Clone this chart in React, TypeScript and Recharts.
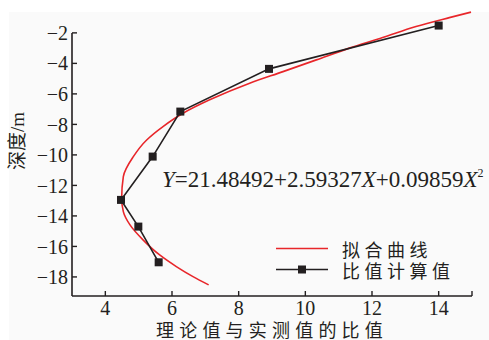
import React from 'react';
import {ComposedChart, Line, XAxis, YAxis, ReferenceLine} from 'recharts';

// fitted curve (bottom to top)
const fitRatio = [7.10, 6.63, 6.13, 5.63, 5.13, 4.74, 4.54, 4.49, 4.54, 4.84, 5.24, 5.73, 6.33, 7.13, 8.33, 9.33, 10.33, 11.32, 12.32, 13.32, 14.32, 14.97];
const fitDepth = [-18.52, -17.98, -17.32, -16.56, -15.57, -14.59, -13.72, -12.84, -11.42, -10.11, -9.02, -8.14, -7.27, -6.39, -5.30, -4.54, -3.77, -3.0, -2.31, -1.58, -1.0, -0.64];

// calculated ratio points
const calcRatio = [14.0, 8.91, 6.25, 5.42, 4.47, 4.99, 5.6];
const calcDepth = [-1.52, -4.36, -7.16, -10.11, -12.95, -14.7, -17.04];

const xTicks = [4, 6, 8, 10, 12, 14, 15];
const yTicks = [-2, -4, -6, -8, -10, -12, -14, -16, -18];

const fitData = fitRatio.map((x, i) => ({x, y: fitDepth[i]}));
const calcData = calcRatio.map((x, i) => ({x, y: calcDepth[i]}));

const ink = '#231f20';
const red = '#e8262a';
const serif = "'Liberation Serif', 'Times New Roman', serif";
const cjk = "'Liberation Serif', 'Noto Sans CJK SC', serif";

const SquareDot = (props: any) => {
    const {cx, cy} = props;
    if (cx == null || cy == null) return null;
    return <rect x={cx - 4} y={cy - 4} width={8} height={8} fill={ink}/>;
};

const LegendBox = () => (
    <div style={{position: 'absolute', left: 276, top: 238, fontFamily: cjk, fontSize: 18, letterSpacing: 4.5, color: ink}}>
        <div style={{display: 'flex', alignItems: 'center', height: 21}}>
            <svg width={66} height={21}>
                <line x1={0} y1={10.5} x2={52} y2={10.5} stroke={red} strokeWidth={1.6}/>
            </svg>
            <span>拟合曲线</span>
        </div>
        <div style={{display: 'flex', alignItems: 'center', height: 21}}>
            <svg width={66} height={21}>
                <line x1={0} y1={10.5} x2={52} y2={10.5} stroke={ink} strokeWidth={1.6}/>
                <rect x={22} y={6.5} width={8} height={8} fill={ink}/>
            </svg>
            <span>比值计算值</span>
        </div>
    </div>
);

const YLabel = () => (
    <text x={17} y={141} transform="rotate(-90 17 141)" textAnchor="middle" dominantBaseline="central"
          fontFamily={cjk} fontSize={19} fill={ink}>深度/m</text>
);

const App: React.FC = () => {
    return (
        <div style={{position: 'absolute', left: 0, top: 0, width: 489, height: 340, background: '#fff', overflow: 'hidden'}}>
            <div style={{position: 'absolute', left: 9, top: 12, right: 0, bottom: 0, background: '#fafafa'}}/>
            <ComposedChart width={489} height={340} margin={{top: 10, right: 17, left: 12, bottom: 14}}
                           style={{position: 'absolute', left: 0, top: 0}}>
                <XAxis type="number" dataKey="x" domain={[3, 15]} ticks={xTicks} height={30} interval={0}
                       tickFormatter={(v: number) => (v === 15 ? '' : String(v))}
                       tickSize={-5} tickMargin={10}
                       axisLine={{stroke: ink, strokeWidth: 1.6}} tickLine={{stroke: ink, strokeWidth: 1.4}}
                       tick={{fontSize: 20, fill: ink, fontFamily: serif}}
                       label={{value: '理论值与实测值的比值', position: 'bottom', offset: -2, fontSize: 18, fill: ink, fontFamily: cjk, letterSpacing: 5.2}}/>
                <YAxis type="number" domain={[-19.25, -0.5]} ticks={yTicks} width={60} interval={0}
                       tickFormatter={(v: number) => (v < 0 ? '\u2212' + Math.abs(v) : String(v))}
                       tickSize={-5} tickMargin={9}
                       axisLine={false} tickLine={{stroke: ink, strokeWidth: 1.4}}
                       tick={{fontSize: 20, fill: ink, fontFamily: serif}}
                       label={{content: () => <YLabel/>}}/>
                <ReferenceLine segment={[{x: 3, y: -19.25}, {x: 3, y: -2}]} stroke={ink} strokeWidth={1.6} ifOverflow="visible"/>
                <Line data={fitData} dataKey="y" type="monotoneY" stroke={red} strokeWidth={1.6} dot={false}
                      isAnimationActive={false} name="拟合曲线"/>
                <Line data={calcData} dataKey="y" type="linear" stroke={ink} strokeWidth={1.6} dot={<SquareDot/>}
                      isAnimationActive={false} name="比值计算值"/>
            </ComposedChart>
            <svg width={489} height={340} style={{position: 'absolute', left: 0, top: 0, pointerEvents: 'none'}}>
                <text x={162} y={187} fontFamily={serif} fontSize={23} fill={ink}>
                    <tspan fontStyle="italic">Y</tspan>=21.48492+2.59327<tspan fontStyle="italic">X</tspan>+0.09859<tspan fontStyle="italic">X</tspan><tspan fontSize={12} dy={-10}>2</tspan>
                </text>
            </svg>
            <LegendBox/>
        </div>
    );
};

export default App;
